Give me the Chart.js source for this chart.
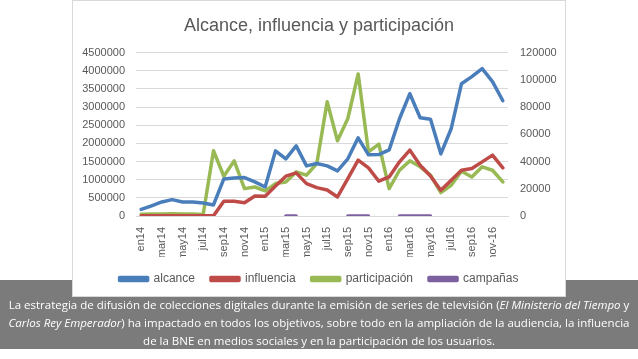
<!DOCTYPE html>
<html>
<head>
<meta charset="utf-8">
<script src="https://cdn.jsdelivr.net/npm/chart.js@4/dist/chart.umd.min.js"></script>
<style>
  html, body { margin: 0; padding: 0; background: #ffffff; width: 638px; height: 359px; overflow: hidden; }
  #band { position: absolute; left: 0; top: 280px; width: 638px; height: 69px; background: #7b7b7b; }
  #box { position: absolute; left: 72px; top: 0px; width: 492px; height: 295px; background: #fff; border: 1px solid #d9d9d9; }
  #wrap { position: absolute; left: 72px; top: 0px; width: 494px; height: 297px; }
  #caption { position: absolute; left: 0; top: 296px; width: 638px; text-align: center; color: #fff;
    font-family: "Open Sans", sans-serif; font-size: 11.5px; line-height: 18px; white-space: nowrap; }
</style>
</head>
<body>
<div id="band"></div>
<div id="box"></div>
<div id="wrap"><canvas id="c" width="494" height="297"></canvas></div>
<div id="caption">La estrategia de difusión de colecciones digitales durante la emisión de series de televisión (<i>El Ministerio del Tiempo</i> y<br><i>Carlos Rey Emperador</i>) ha impactado en todos los objetivos, sobre todo en la ampliación de la audiencia, la influencia<br>de la BNE en medios sociales y en la participación de los usuarios.</div>
<script>
const categories = ["en14","feb14","mar14","abr14","may14","jun14","jul14","ago14","sep14","oct14","nov14","dic14",
  "en15","feb15","mar15","abr15","may15","jun15","jul15","ago15","sep15","oct15","nov15","dic15",
  "en16","feb16","mar16","abr16","may16","jun16","jul16","ago16","sep16","oct16","nov-16","dic16"];
const tickLabels = ["en14","","mar14","","may14","","jul14","","sep14","","nov14","",
  "en15","","mar15","","may15","","jul15","","sep15","","nov15","",
  "en16","","mar16","","may16","","jul16","","sep16","","nov-16",""];
const alcance = [180000,280000,386000,450000,386000,386000,359000,304000,1021000,1049000,1057000,939000,
  800000,1794000,1574000,1932000,1380000,1444000,1380000,1242000,1574000,2153000,1684000,1692000,
  1822000,2678000,3368000,2705000,2664000,1712000,2402000,3644000,3837000,4058000,3699000,3175000];
const influencia = [5000,5000,5000,5000,5000,5000,5000,5000,406000,406000,367000,552000,
  544000,828000,1096000,1187000,892000,781000,718000,525000,1030000,1538000,1325000,958000,
  1077000,1491000,1814000,1400000,1104000,709000,986000,1262000,1306000,1491000,1676000,1325000];
const participacion = [1300,1500,1500,1700,1500,1500,1100,47900,29200,40500,20100,21300,
  18400,23800,25000,32400,30000,38500,83900,55200,71600,104300,47100,52800,
  20100,33600,40500,36100,30000,17200,22600,32900,28700,36100,33600,25000];
const campanas = [null,null,null,null,null,null,null,null,null,null,null,null,
  null,null,0,0,null,null,null,null,0,0,0,null,
  null,0,0,0,0,null,null,null,null,null,null,null];
const leftTicks = {min: 0, max: 4500000, step: 500000};
const rightTicks = {min: 0, max: 120000, step: 20000};

const FONT = "'Liberation Sans', Arial, sans-serif";
const TXT = "#595959";
function ds(label, data, color, axis) {
  return {label, data, yAxisID: axis, borderColor: color, backgroundColor: color,
    borderWidth: 3.5, pointRadius: 0, tension: 0, spanGaps: false, borderCapStyle: 'round', borderJoinStyle: 'round'};
}
new Chart(document.getElementById('c'), {
  type: 'line',
  data: {
    labels: categories,
    datasets: [
      ds('alcance', alcance, '#4a7ebb', 'y'),
      ds('influencia', influencia, '#be4b48', 'y'),
      ds('participación', participacion, '#98b954', 'y1'),
      ds('campañas', campanas, '#7d60a0', 'y1')
    ]
  },
  options: {
    responsive: false, animation: false,
    layout: {padding: {left: 0, right: 0, top: 0, bottom: 2}},
    plugins: {
      title: {display: true, text: 'Alcance, influencia y participación', color: TXT,
        font: {family: FONT, size: 18, weight: 'normal'}, padding: {top: 15, bottom: 16}},
      legend: {position: 'bottom', labels: {color: TXT, font: {family: FONT, size: 12}, boxWidth: 28, boxHeight: 3, padding: 16}},
      tooltip: {enabled: false}
    },
    scales: {
      x: {offset: true, grid: {display: false}, border: {display: true, color: '#d9d9d9'},
        ticks: {autoSkip: false, minRotation: 90, maxRotation: 90, color: TXT, font: {family: FONT, size: 11},
          callback: (v, i) => tickLabels[i]},
        afterFit: s => { s.height = 41; }},
      y: {position: 'left', min: leftTicks.min, max: leftTicks.max,
        grid: {color: '#d9d9d9', drawTicks: false}, border: {display: false},
        ticks: {autoSkip: false, stepSize: leftTicks.step, color: TXT, font: {family: FONT, size: 11}, padding: 11, callback: v => String(v)},
        afterFit: s => { s.width = 64; }},
      y1: {position: 'right', min: rightTicks.min, max: rightTicks.max,
        grid: {display: false, drawTicks: false}, border: {display: false},
        ticks: {autoSkip: false, stepSize: rightTicks.step, color: TXT, font: {family: FONT, size: 11}, padding: 12, callback: v => String(v)},
        afterFit: s => { s.width = 58; }}
    }
  }
});
</script>
</body>
</html>
